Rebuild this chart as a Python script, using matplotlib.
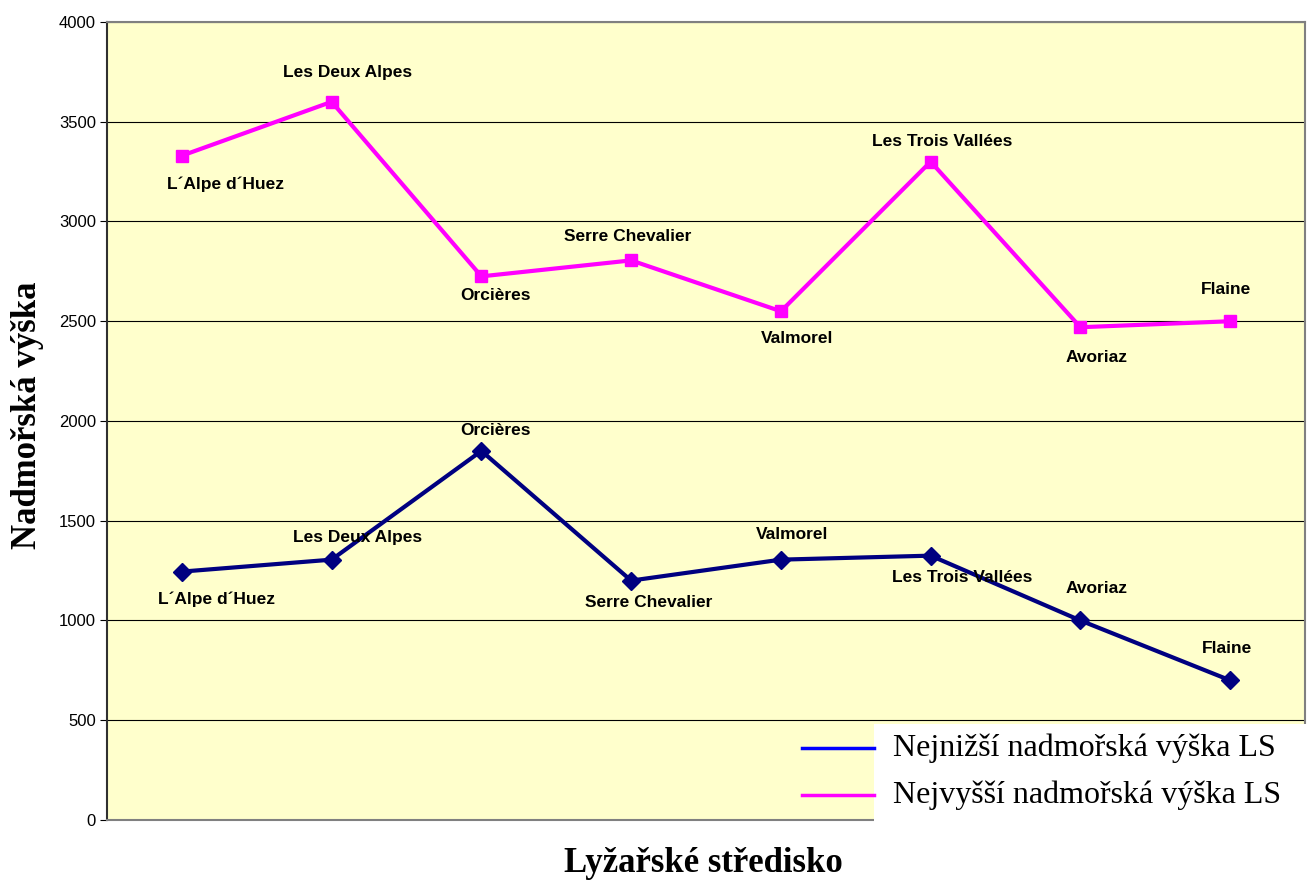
import numpy as np
import matplotlib.pyplot as plt
from matplotlib.lines import Line2D
from matplotlib.patches import Rectangle

# data
strediska = ['L´Alpe d´Huez', 'Les Deux Alpes', 'Orcières', 'Serre Chevalier',
             'Valmorel', 'Les Trois Vallées', 'Avoriaz', 'Flaine']
nejnizsi = [1245, 1305, 1850, 1200, 1305, 1325, 1000, 700]
nejvyssi = [3330, 3600, 2725, 2805, 2550, 3300, 2470, 2500]
serie = ['Nejnižší nadmořská výška LS', 'Nejvyšší nadmořská výška LS']

# label offsets in pixels (dx, dy)
off_low = [(35, -28), (26, 22), (14, 20), (18, -22), (11, 25), (32, -22), (16, 32), (-3, 32)]
off_high = [(44, -29), (16, 29), (14, -19), (-3, 24), (16, -27), (12, 20), (16, -30), (-4, 32)]

fig = plt.figure(figsize=(13.1, 8.8), dpi=100)
ax = fig.add_axes([0.0817, 0.0682, 0.9145, 0.9068])
ax.set_facecolor('#FFFFCC')

x = np.arange(len(strediska))
ax.plot(x, nejnizsi, color='#000080', lw=3, marker='D', ms=9, zorder=3)
ax.plot(x, nejvyssi, color='#FF00FF', lw=3, marker='s', ms=9, zorder=3)

for i in range(len(strediska)):
	ax.annotate(strediska[i], (x[i], nejnizsi[i]), xytext=off_low[i], textcoords='offset pixels',
	            ha='center', va='center', fontsize=12.5, fontweight='bold', family='Liberation Sans', zorder=4)
	ax.annotate(strediska[i], (x[i], nejvyssi[i]), xytext=off_high[i], textcoords='offset pixels',
	            ha='center', va='center', fontsize=12.5, fontweight='bold', family='Liberation Sans', zorder=4)

ax.set_xlim(-0.5, len(strediska) - 0.5)
ax.set_ylim(0, 4000)
ax.set_yticks(np.arange(0, 4001, 500))
ax.set_xticks([])
ax.yaxis.grid(True, color='black', linewidth=0.8)
ax.set_axisbelow(True)
ax.tick_params(axis='y', labelsize=12, length=5, color='black', pad=3)
for t in ax.get_yticklabels():
	t.set_family('Liberation Sans')
for s in ['top', 'right', 'bottom']:
	ax.spines[s].set_color('#808080')
	ax.spines[s].set_linewidth(1.5)
ax.spines['left'].set_color('#303030')
ax.spines['left'].set_linewidth(1.5)

fig.text(0.021, 0.528, 'Nadmořská výška', rotation=90, ha='center', va='center',
         fontsize=25, fontweight='bold', family='Liberation Serif')
fig.text(703 / 1310, 0.019, 'Lyžařské středisko', ha='center', va='center',
         fontsize=25, fontweight='bold', family='Liberation Serif')

# legend box
fig.add_artist(Rectangle((874 / 1310, 0), 436 / 1310, 156 / 880, transform=fig.transFigure,
                         facecolor='white', edgecolor='none', zorder=5))
for col, name, yy in [('#0000FF', serie[0], 748), ('#FF00FF', serie[1], 795)]:
	yf = 1 - yy / 880
	fig.add_artist(Line2D([802 / 1310, 874 / 1310], [yf, yf], transform=fig.transFigure,
	                      color=col, lw=2.5, zorder=6))
	fig.text(893 / 1310, yf, name, ha='left', va='center', fontsize=23,
	         family='Liberation Serif', zorder=6)

fig.savefig('out.png', dpi=100)
